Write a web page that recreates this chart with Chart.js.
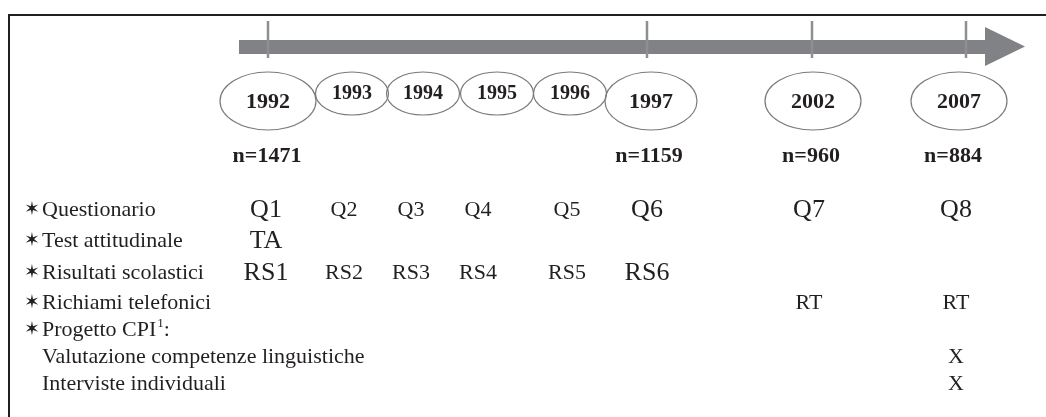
<!DOCTYPE html>
<html>
<head>
<meta charset="utf-8">
<script src="https://cdn.jsdelivr.net/npm/chart.js@4.4.1/dist/chart.umd.min.js"></script>
<style>
  body { margin: 0; background: #fff; }
  #wrap { width: 1046px; height: 417px; }
</style>
</head>
<body>
<div id="wrap"><canvas id="timeline" width="1046" height="417"></canvas></div>
<script>
// --- data ---
const years = ['1992', '1993', '1994', '1995', '1996', '1997', '2002', '2007'];
const sampleSizes = [1471, null, null, null, null, 1159, 960, 884];
const rowNames = ['Questionario', 'Test attitudinale', 'Risultati scolastici', 'Richiami telefonici'];
const questionario = ['Q1', 'Q2', 'Q3', 'Q4', 'Q5', 'Q6', 'Q7', 'Q8'];
const testAttitudinale = ['TA', null, null, null, null, null, null, null];
const risultatiScolastici = ['RS1', 'RS2', 'RS3', 'RS4', 'RS5', 'RS6', null, null];
const richiamiTelefonici = [null, null, null, null, null, null, 'RT', 'RT'];
const progettoCPI = 'Progetto CPI';
const cpiNames = ['Valutazione competenze linguistiche', 'Interviste individuali'];
const valutazioneLing = [null, null, null, null, null, null, null, 'X'];
const intervisteInd = [null, null, null, null, null, null, null, 'X'];

// --- layout (scale units = canvas pixels) ---
const ovalX = [268, 352, 423, 497, 570, 651, 813, 959];
const colX = [266, 344, 411, 478, 567, 647, 809, 956];
const nX = [267, 649, 811, 953];
const tickX = [268, 647, 812, 966];
const rowY = [210, 241, 273, 303];
const cpiY = 330;
const cpiRowY = [357, 384];
const labelX = 42;

const ink = '#231f20';
const grey = '#818285';
const serif = '"Liberation Serif", "Times New Roman", serif';

const bigYear = years.map((y, i) => sampleSizes[i] !== null);

const rows = [questionario, testAttitudinale, risultatiScolastici, richiamiTelefonici, valutazioneLing, intervisteInd];
const rowYs = rowY.concat(cpiRowY);
// which cells use the larger glyphs
const bigCells = [
  [true, false, false, false, false, true, true, true],
  [true, false, false, false, false, false, false, false],
  [true, false, false, false, false, true, false, false],
  [false, false, false, false, false, false, false, false],
  [false, false, false, false, false, false, false, false],
  [false, false, false, false, false, false, false, false]
];

const datasets = rows.map((row, r) => {
  const pts = [];
  row.forEach((v, i) => {
    if (v !== null) pts.push({ x: colX[i], y: rowYs[r], text: v, big: bigCells[r][i] });
  });
  return { label: 'row' + r, data: pts, pointRadius: 0, showLine: false };
});

const timelinePlugin = {
  id: 'timeline',
  afterDraw(chart) {
    const ctx = chart.ctx;
    const xs = chart.scales.x, ys = chart.scales.y;
    const px = v => xs.getPixelForValue(v);
    const py = v => ys.getPixelForValue(v);
    ctx.save();

    // frame (top and left only)
    ctx.strokeStyle = ink;
    ctx.lineWidth = 2;
    ctx.beginPath();
    ctx.moveTo(px(9), py(417));
    ctx.lineTo(px(9), py(15));
    ctx.lineTo(px(1046), py(15));
    ctx.stroke();

    // arrow
    ctx.fillStyle = grey;
    ctx.fillRect(px(239), py(40), px(987) - px(239), py(54) - py(40));
    ctx.beginPath();
    ctx.moveTo(px(985), py(27));
    ctx.lineTo(px(1025), py(46.5));
    ctx.lineTo(px(985), py(66));
    ctx.closePath();
    ctx.fill();

    // ticks
    ctx.strokeStyle = '#8e8f92';
    ctx.lineWidth = 2.5;
    tickX.forEach(x => {
      ctx.beginPath();
      ctx.moveTo(px(x), py(21));
      ctx.lineTo(px(x), py(58));
      ctx.stroke();
    });

    // year ovals
    ctx.strokeStyle = '#7a7a7c';
    ctx.lineWidth = 1.2;
    years.forEach((yr, i) => {
      const big = bigYear[i];
      const cy = big ? 101 : 93.5;
      const rx = big ? (i === 5 ? 46 : 48) : 36.5;
      const ry = big ? 29 : 21.5;
      ctx.beginPath();
      ctx.ellipse(px(ovalX[i]), py(cy), rx, ry, 0, 0, Math.PI * 2);
      ctx.stroke();
    });
    ctx.fillStyle = ink;
    ctx.textAlign = 'center';
    ctx.textBaseline = 'middle';
    years.forEach((yr, i) => {
      const big = bigYear[i];
      ctx.font = 'bold ' + (big ? 22 : 20) + 'px ' + serif;
      ctx.fillText(yr, px(ovalX[i]), py(big ? 102 : 94));
    });

    // sample sizes
    ctx.font = 'bold 22px ' + serif;
    let k = 0;
    sampleSizes.forEach(n => {
      if (n === null) return;
      ctx.fillText('n=' + n, px(nX[k]), py(156));
      k++;
    });

    // row labels
    ctx.textAlign = 'left';
    const star = y => {
      ctx.font = '19px "DejaVu Sans"';
      ctx.fillText('\u2736', px(24), py(y));
    };
    rowNames.forEach((name, r) => {
      star(rowY[r]);
      ctx.font = '22px ' + serif;
      ctx.fillText(name, px(labelX), py(rowY[r]));
    });
    star(cpiY);
    ctx.font = '22px ' + serif;
    ctx.fillText(progettoCPI, px(labelX), py(cpiY));
    const w = ctx.measureText(progettoCPI).width;
    ctx.font = '13px ' + serif;
    ctx.fillText('1', px(labelX) + w + 1, py(cpiY - 6));
    const w1 = ctx.measureText('1').width;
    ctx.font = '22px ' + serif;
    ctx.fillText(':', px(labelX) + w + w1 + 1, py(cpiY));
    cpiNames.forEach((name, r) => {
      ctx.fillText(name, px(labelX), py(cpiRowY[r]));
    });

    // cells from dataset points
    ctx.textAlign = 'center';
    chart.data.datasets.forEach((ds, r) => {
      const meta = chart.getDatasetMeta(r);
      meta.data.forEach((pt, i) => {
        const d = ds.data[i];
        ctx.font = (d.big ? 26 : 22) + 'px ' + serif;
        ctx.fillText(d.text, pt.x, pt.y);
      });
    });

    ctx.restore();
  }
};

new Chart(document.getElementById('timeline'), {
  type: 'scatter',
  data: { datasets: datasets },
  options: {
    responsive: false,
    animation: false,
    layout: { padding: 0 },
    plugins: { legend: { display: false }, tooltip: { enabled: false } },
    scales: {
      x: { type: 'linear', min: 0, max: 1046, display: false },
      y: { type: 'linear', min: 0, max: 417, reverse: true, display: false }
    }
  },
  plugins: [timelinePlugin]
});
</script>
</body>
</html>
